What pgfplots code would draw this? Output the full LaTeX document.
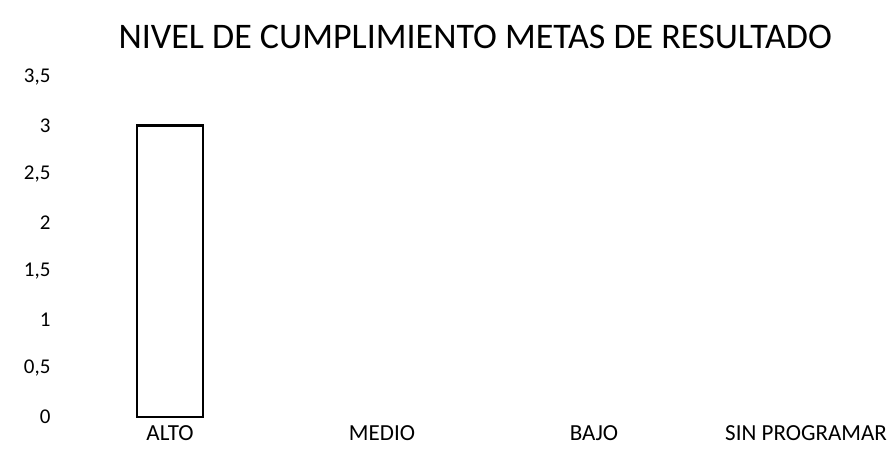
\documentclass[border=0pt]{standalone}
\usepackage{fontspec}
\setmainfont{Carlito}
\usepackage{pgfplots}
\pgfplotsset{compat=1.18}
\begin{document}
\begin{tikzpicture}
\path[use as bounding box] (-64pt,-42pt) rectangle (829pt,417pt);
\begin{axis}[
  at={(0,0)}, anchor=south west,
  scale only axis,
  x=212pt, y=97.14pt,
  xmin=-0.5, xmax=3.38,
  ymin=0, ymax=3.5,
  ybar, bar width=66pt,
  axis line style={draw=none},
  major tick length=0pt,
  xtick={0,1,2,3},
  xticklabels={ALTO,MEDIO,BAJO,SIN PROGRAMAR},
  ytick={0,0.5,1,1.5,2,2.5,3,3.5},
  /pgf/number format/use comma,
  /pgf/number format/assume math mode=true,
  yticklabel style={font=\fontsize{21}{26}\selectfont, anchor=east, xshift=-10pt},
  xticklabel style={font=\fontsize{23}{26}\selectfont, anchor=center, yshift=-16pt},
  title={NIVEL DE CUMPLIMIENTO METAS DE RESULTADO},
  title style={font=\fontsize{36}{40}\selectfont, at={(0.5,1)}, anchor=center, yshift=34pt},
  clip=false,
]
\addplot[draw=black, line width=2.5pt, fill=white] coordinates {(0,3)};
\end{axis}
\end{tikzpicture}
\end{document}
